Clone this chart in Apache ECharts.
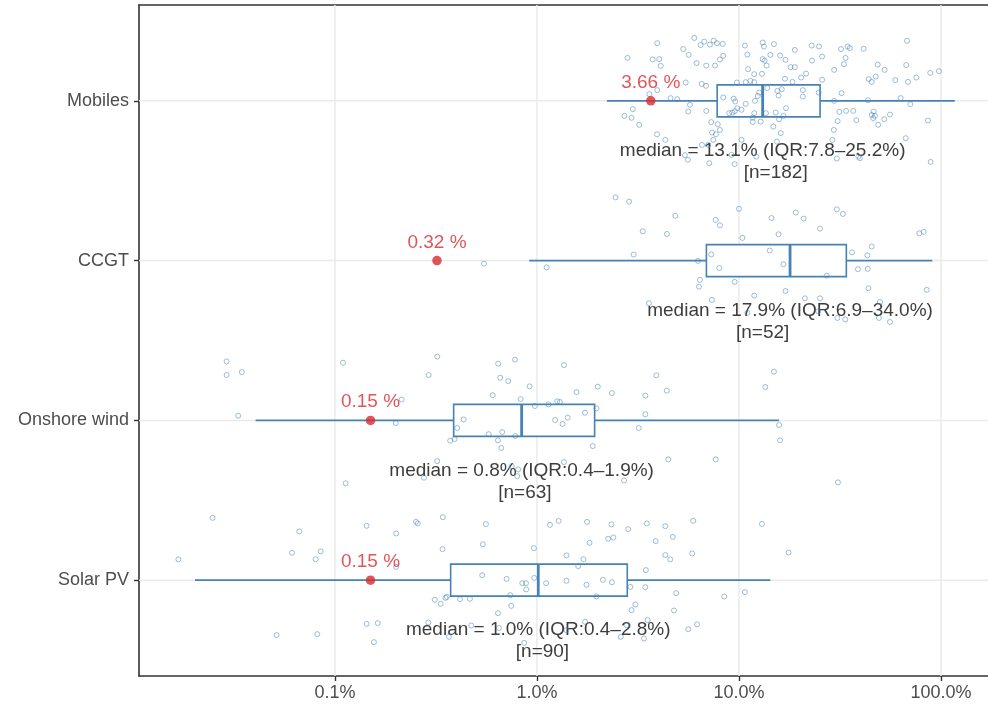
<!DOCTYPE html>
<html><head><meta charset="utf-8">
<script src="https://cdn.jsdelivr.net/npm/echarts@6/dist/echarts.min.js"></script>
<style>html,body{margin:0;padding:0;background:#fff}#chart{width:988px;height:707px}</style>
</head><body><div id="chart"></div>
<script>
// categories from bottom (position 1) to top (position 4)
const categories = ['Solar PV', 'Onshore wind', 'CCGT', 'Mobiles'];
const nCounts = [90, 63, 52, 182];
const whiskerLow = [0.0203, 0.0405, 0.916, 2.22];
const q1 = [0.374, 0.387, 6.9, 7.8];
const median = [1.015, 0.84, 17.9, 13.1];
const q3 = [2.80, 1.93, 34.0, 25.2];
const whiskerHigh = [14.3, 15.8, 90.6, 117];
const highlight = [0.15, 0.15, 0.32, 3.66];
const nLabelAt = [1.065, 0.872, 13.1, 15.2];
const xTickValues = [0.1, 1, 10, 100];
const xTickLabels = ['0.1%', '1.0%', '10.0%', '100.0%'];

// [value %, vertical jitter in category units]
const solarPoints = [
[0.0248,0.390],[0.0168,0.130],[0.0666,0.305],[0.0613,0.171],[0.0803,0.131],[0.0850,0.180],[0.0514,-0.344],[0.0818,-0.338],[0.1435,0.340],[0.201,0.292],
[0.252,0.365],[0.257,0.355],[0.342,0.394],[0.341,0.194],[0.201,0.083],[0.312,-0.123],[0.334,-0.148],[0.353,-0.111],[0.358,-0.105],[0.416,-0.119],
[0.466,-0.117],[0.1435,-0.274],[0.163,-0.269],[0.156,-0.388],[0.290,-0.265],[0.473,-0.284],[0.367,-0.355],[0.559,0.351],[0.540,0.225],[1.16,0.346],
[1.28,0.371],[1.77,0.365],[2.34,0.349],[2.83,0.319],[3.50,0.355],[4.32,0.338],[5.94,0.371],[13.0,0.352],[1.82,0.234],[2.25,0.259],
[2.39,0.267],[3.87,0.244],[4.70,0.271],[0.966,0.200],[1.40,0.155],[1.70,0.131],[1.60,0.088],[4.32,0.157],[4.57,0.130],[5.87,0.167],
[17.6,0.173],[3.46,0.063],[0.536,0.031],[0.708,0.008],[0.846,-0.019],[0.882,-0.019],[0.970,0.014],[1.11,-0.019],[1.40,-0.004],[1.76,-0.029],
[2.12,0.002],[2.35,-0.013],[0.885,-0.058],[0.738,-0.094],[1.97,-0.102],[2.90,-0.042],[3.44,-0.044],[4.89,-0.081],[8.46,-0.102],[10.7,-0.075],
[0.746,-0.161],[0.641,-0.207],[3.07,-0.152],[2.94,-0.188],[4.77,-0.190],[0.648,-0.299],[1.40,-0.313],[1.73,-0.261],[3.53,-0.250],[2.78,-0.282],
[5.61,-0.307],[6.20,-0.277],[2.60,-0.355],[3.39,-0.365],[0.865,-0.393]
];
const windPoints = [
[0.0291,0.369],[0.0291,0.284],[0.0346,0.302],[0.0332,0.029],[0.1096,0.361],[0.321,0.399],[0.291,0.284],[0.214,0.130],[0.200,-0.017],[0.643,0.355],
[0.778,0.380],[0.658,0.267],[0.721,0.246],[0.604,0.158],[0.434,0.006],[0.403,-0.048],[0.372,-0.127],[0.391,-0.117],[0.577,-0.086],[0.673,-0.073],
[0.781,-0.098],[0.641,-0.125],[0.666,-0.173],[0.321,-0.255],[0.276,-0.359],[0.113,-0.394],[0.750,-0.286],[0.808,-0.307],[1.36,0.346],[0.920,0.213],
[0.830,0.133],[1.57,0.177],[2.00,0.211],[2.35,0.171],[3.90,0.282],[4.39,0.186],[3.44,0.155],[13.5,0.209],[14.9,0.305],[0.977,0.090],
[1.14,0.100],[1.26,0.119],[1.30,0.115],[1.73,0.048],[1.97,0.075],[3.44,0.038],[1.23,0.002],[1.42,0.017],[1.34,-0.023],[3.19,-0.048],
[1.89,-0.161],[15.8,-0.029],[16.0,-0.125],[4.47,-0.244],[7.67,-0.244],[1.36,-0.261],[0.799,-0.349],[2.70,-0.376],[30.9,-0.388]
];
const ccgtPoints = [
[0.546,-0.019],[1.117,-0.042],[2.45,0.396],[2.86,0.369],[4.84,0.280],[3.34,0.183],[4.40,0.167],[3.01,0.038],[6.27,-0.002],[6.41,-0.121],
[6.34,-0.163],[3.58,-0.267],[10.0,0.324],[7.67,0.255],[8.05,0.221],[14.5,0.267],[19.1,0.301],[20.9,0.263],[30.5,0.321],[32.7,0.292],
[10.4,0.142],[15.7,0.165],[25.2,0.200],[78.1,0.171],[82.1,0.180],[7.29,0.039],[7.99,-0.046],[14.2,0.063],[16.6,-0.023],[36.3,0.052],
[43.2,0.033],[45.4,0.088],[38.8,-0.054],[43.4,-0.052],[27.2,-0.094],[9.52,-0.133],[17.0,-0.190],[11.9,-0.219],[43.7,-0.173],[85.0,-0.183],
[7.35,-0.246],[21.2,-0.236],[25.2,-0.236],[49.9,-0.259],[11.0,-0.327],[24.7,-0.317],[30.7,-0.359],[33.6,-0.368],[49.3,-0.359],[55.9,-0.384]
];
const mobilesPoints = [
[3.94,0.361],[6.01,0.394],[6.46,0.349],[6.73,0.371],[7.18,0.352],[7.50,0.377],[7.78,0.361],[8.31,0.357],[5.30,0.324],[5.64,0.288],
[2.81,0.269],[3.74,0.259],[4.03,0.261],[8.36,0.282],[8.05,0.259],[6.17,0.236],[6.89,0.221],[7.61,0.221],[4.10,0.219],[10.7,0.346],
[13.1,0.365],[13.3,0.340],[14.9,0.355],[11.0,0.290],[13.1,0.261],[13.4,0.252],[14.3,0.288],[16.0,0.284],[17.0,0.257],[18.0,0.211],
[18.9,0.211],[13.7,0.221],[11.1,0.198],[11.9,0.167],[13.0,0.169],[10.8,0.117],[11.4,0.125],[11.9,0.117],[9.77,0.115],[16.9,0.138],
[18.4,0.119],[5.45,0.115],[6.54,0.106],[6.87,0.094],[3.94,0.067],[3.60,0.042],[4.59,0.017],[4.95,0.011],[5.72,-0.025],[5.61,-0.067],
[6.89,-0.063],[8.36,0.021],[9.41,0.014],[9.59,-0.004],[9.81,-0.046],[9.55,-0.064],[9.27,-0.073],[8.95,-0.077],[10.3,-0.056],[10.8,-0.019],
[12.0,0],[12.4,0.031],[12.6,0.052],[11.9,-0.077],[13.8,0.080],[15.5,0.063],[16.3,0.073],[15.7,0.033],[17.1,-0.046],[15.2,-0.073],
[16.6,-0.094],[15.8,-0.115],[13.6,-0.077],[11.7,-0.105],[11.7,-0.132],[12.8,-0.130],[14.8,-0.161],[2.71,-0.094],[2.94,-0.106],[2.98,-0.052],
[3.21,-0.150],[7.29,-0.133],[7.85,-0.146],[8.05,-0.182],[7.35,-0.198],[7.69,-0.209],[7.46,-0.244],[7.05,-0.276],[3.93,-0.209],[4.32,-0.244],
[10.3,-0.244],[16.1,-0.202],[15.4,-0.255],[6.56,-0.276],[5.40,-0.340],[5.59,-0.369],[7.13,-0.390],[9.52,-0.396],[9.20,-0.338],[12.2,-0.349],
[18.9,0.319],[22.9,0.346],[24.9,0.340],[32.0,0.324],[34.5,0.340],[35.4,0.330],[41.4,0.326],[67.9,0.376],[23.0,0.252],[25.8,0.277],
[33.7,0.269],[33.1,0.230],[29.6,0.194],[48.6,0.227],[52.6,0.194],[67.3,0.224],[88.5,0.175],[97.7,0.186],[21.5,0.171],[20.3,0.146],
[25.8,0.132],[43.9,0.136],[45.4,0.119],[47.5,0.152],[59.4,0.130],[68.7,0.119],[75.5,0.146],[20.7,0.067],[20.7,0.027],[24.8,0.052],
[32.2,0.048],[29.6,0],[43.5,0.004],[63.2,0.017],[70.5,-0.021],[31.4,-0.069],[33.9,-0.063],[36.8,-0.063],[46.4,-0.067],[45.4,-0.088],
[47.1,-0.094],[46.2,-0.108],[55.9,-0.086],[52.4,-0.115],[38.1,-0.121],[30.8,-0.127],[48.9,-0.150],[86.2,-0.123],[29.5,-0.182],[29.0,-0.244],
[66.9,-0.234],[30.5,-0.361],[39.0,-0.349],[39.7,-0.359],[88.9,-0.382]
];
const pointSets = [solarPoints, windPoints, ccgtPoints, mobilesPoints];

const BLUE = '#4682b4';
const RED = '#d92a31';
const TEXT = '#3d3d3d';
const GRIDC = '#ebebeb';
const FONT = "'Liberation Sans', Arial, Helvetica, sans-serif";
const X_MIN = 0.01072, X_MAX = 170.9;

const chart = echarts.init(document.getElementById('chart'), null, {renderer: 'canvas'});

const jitterData = [];
pointSets.forEach((pts, i) => pts.forEach(p => jitterData.push([p[0], i + 1 + p[1]])));

const boxData = categories.map((c, i) => [i + 1, whiskerLow[i], q1[i], median[i], q3[i], whiskerHigh[i]]);
const annData = categories.map((c, i) => [median[i], i + 1, nLabelAt[i]]);

function fmt(v) { return v.toFixed(1); }

const frameLine = {show: true, lineStyle: {color: '#333', width: 1.6}};

const option = {
  animation: false,
  backgroundColor: '#fff',
  grid: {left: 139, top: 5, width: 849, height: 671, show: false},
  xAxis: [{
    type: 'log', logBase: 10, min: X_MIN, max: X_MAX,
    axisLine: frameLine,
    axisTick: {show: true, length: 5, customValues: xTickValues, lineStyle: {color: '#333', width: 1.4}},
    splitLine: {show: false},
    minorTick: {show: false}, minorSplitLine: {show: false},
    axisLabel: {
      customValues: xTickValues,
      showMinLabel: true, showMaxLabel: true,
      color: '#4d4d4d', fontSize: 18, fontFamily: FONT, margin: 8,
      formatter: v => {
        const k = xTickValues.findIndex(t => Math.abs(Math.log10(t) - Math.log10(v)) < 1e-6);
        return k >= 0 ? xTickLabels[k] : '';
      }
    }
  }, {
    type: 'log', logBase: 10, min: X_MIN, max: X_MAX, position: 'top',
    axisLine: frameLine, axisTick: {show: false}, axisLabel: {show: false}, splitLine: {show: false}
  }],
  yAxis: {
    type: 'value', min: 0.4, max: 4.6,
    axisLine: frameLine,
    splitLine: {show: false},
    axisTick: {show: true, length: 5, customValues: [1, 2, 3, 4], lineStyle: {color: '#333', width: 1.4}},
    axisLabel: {
      customValues: [1, 2, 3, 4],
      color: '#4d4d4d', fontSize: 18, fontFamily: FONT, margin: 10,
      formatter: v => categories[Math.round(v) - 1] || ''
    }
  },
  series: [
    {
      // horizontal gridlines at categories
      type: 'custom', z: 1, silent: true,
      data: categories.map((c, i) => [1, i + 1]),
      encode: {x: 0, y: 1},
      renderItem: (params, api) => {
        const cs = params.coordSys;
        const y = api.coord([1, api.value(1)])[1];
        return {type: 'line', shape: {x1: cs.x, y1: y, x2: cs.x + cs.width, y2: y}, style: {stroke: GRIDC, lineWidth: 1.5}};
      }
    },
    {
      // vertical gridlines at decades
      type: 'custom', z: 1, silent: true,
      data: xTickValues.map(v => [v, 1]),
      encode: {x: 0, y: 1},
      renderItem: (params, api) => {
        const cs = params.coordSys;
        const x = api.coord([api.value(0), 1])[0];
        return {type: 'line', shape: {x1: x, y1: cs.y, x2: x, y2: cs.y + cs.height}, style: {stroke: GRIDC, lineWidth: 1.5}};
      }
    },
    {
      type: 'custom', z: 2, silent: true,
      data: boxData,
      encode: {y: 0, x: [1, 2, 3, 4, 5]},
      renderItem: (params, api) => {
        const pos = api.value(0);
        const lo = api.coord([api.value(1), pos]);
        const b1 = api.coord([api.value(2), pos]);
        const md = api.coord([api.value(3), pos]);
        const b3 = api.coord([api.value(4), pos]);
        const hi = api.coord([api.value(5), pos]);
        const top = api.coord([api.value(3), pos + 0.1])[1];
        const bot = api.coord([api.value(3), pos - 0.1])[1];
        return {type: 'group', children: [
          {type: 'line', shape: {x1: lo[0], y1: lo[1], x2: b1[0], y2: b1[1]}, style: {stroke: BLUE, lineWidth: 1.6}},
          {type: 'line', shape: {x1: b3[0], y1: b3[1], x2: hi[0], y2: hi[1]}, style: {stroke: BLUE, lineWidth: 1.6}},
          {type: 'rect', shape: {x: b1[0], y: top, width: b3[0] - b1[0], height: bot - top}, style: {fill: '#fff', stroke: BLUE, lineWidth: 1.6}},
          {type: 'line', shape: {x1: md[0], y1: top, x2: md[0], y2: bot}, style: {stroke: BLUE, lineWidth: 2.8}}
        ]};
      }
    },
    {
      type: 'custom', z: 3, silent: true,
      data: annData,
      encode: {x: [0, 2], y: 1},
      renderItem: (params, api) => {
        const i = params.dataIndex;
        const p1 = api.coord([api.value(0), api.value(1)]);
        const p2 = api.coord([api.value(2), api.value(1)]);
        const txt = 'median = ' + fmt(median[i]) + '% (IQR:' + fmt(q1[i]) + '\u2013' + fmt(q3[i]) + '%)';
        return {type: 'group', children: [
          {type: 'text', x: p1[0], y: p1[1] + 50, style: {text: txt, fill: TEXT, font: '19px ' + FONT, align: 'center', verticalAlign: 'middle'}},
          {type: 'text', x: p2[0], y: p2[1] + 72, style: {text: '[n=' + nCounts[i] + ']', fill: TEXT, font: '19px ' + FONT, align: 'center', verticalAlign: 'middle'}}
        ]};
      }
    },
    {
      type: 'scatter', z: 4, silent: true,
      data: jitterData,
      symbol: 'circle', symbolSize: 5,
      itemStyle: {color: 'rgba(255,255,255,0)', borderColor: 'rgba(70,130,180,0.65)', borderWidth: 1}
    },
    {
      type: 'scatter', z: 5, silent: true,
      data: categories.map((c, i) => [highlight[i], i + 1]),
      symbol: 'circle', symbolSize: 9.5,
      itemStyle: {color: RED},
      label: {
        show: true, position: 'top', distance: 4,
        color: RED, fontSize: 19, fontFamily: FONT,
        formatter: p => p.value[0] + ' %'
      }
    }
  ]
};
chart.setOption(option);
</script>
</body></html>
